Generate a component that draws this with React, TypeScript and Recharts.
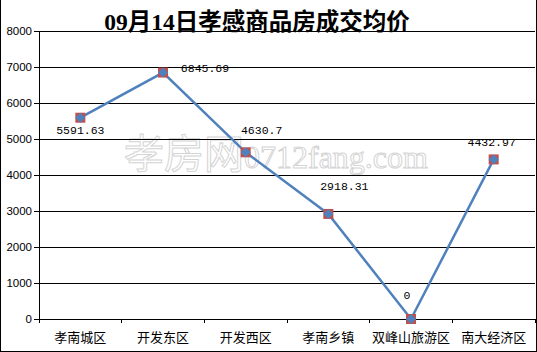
import React from 'react';
import { LineChart, Line, XAxis, YAxis, CartesianGrid, LabelList } from 'recharts';

const districts = ['孝南城区', '开发东区', '开发西区', '孝南乡镇', '双峰山旅游区', '南大经济区'];
const avgPrice = [5591.63, 6845.69, 4630.7, 2918.31, 0, 4432.97];
const priceLabels = ['5591.63', '6845.69', '4630.7', '2918.31', '0', '4432.97'];
const yTicks = [0, 1000, 2000, 3000, 4000, 5000, 6000, 7000, 8000];

// where each value label sits relative to its point
const labelShift = [
    [0, 13], [42, -4], [16, -22], [16, -27], [-4, -24], [-2, -17],
];

const chartData = districts.map((name, i) => ({ name, price: avgPrice[i], label: priceLabels[i] }));

const Marker = (props: any) => {
    const { cx, cy } = props;
    if (cx == null || cy == null) return null;
    return (
        <g>
            <rect x={cx - 5} y={cy - 5} width={10} height={10} fill="#C0504D" />
            <path d={`M${cx},${cy - 5} L${cx + 5},${cy} L${cx},${cy + 5} L${cx - 5},${cy} Z`} fill="#4F81BD" />
        </g>
    );
};

const PriceLabel = (props: any) => {
    const { x, y, index, value } = props;
    const [dx, dy] = labelShift[index] || [0, 0];
    return (
        <text x={x + dx} y={y + dy} textAnchor="middle" dominantBaseline="central"
            fontFamily="'Liberation Mono', monospace" fontSize={11.5} fill="#000">
            {value}
        </text>
    );
};

const CategoryTick = (props: any) => {
    const { x, y, payload } = props;
    const half = payload.offset || 0;
    return (
        <g>
            <line x1={x - half} y1={y - 8} x2={x - half} y2={y - 4} stroke="#000" shapeRendering="crispEdges" />
            <line x1={x + half} y1={y - 8} x2={x + half} y2={y - 4} stroke="#000" shapeRendering="crispEdges" />
            <text x={x} y={y + 9} textAnchor="middle" dominantBaseline="central"
                fontFamily="'Noto Sans CJK SC', sans-serif" fontSize={13} fill="#000">
                {payload.value}
            </text>
        </g>
    );
};

export default function App() {
    return (
        <div style={{ position: 'absolute', left: 0, top: 0, width: 537, height: 352, background: '#fff' }}>
            <div style={{
                position: 'absolute', left: 0, top: 3, width: 514, textAlign: 'center',
                fontFamily: "'Liberation Serif', 'Noto Sans CJK SC', serif", fontWeight: 'bold', fontSize: 23.5,
            }}>
                09月14日孝感商品房成交均价
            </div>
            <div style={{
                position: 'absolute', left: 124, top: 128, whiteSpace: 'nowrap', lineHeight: '46px',
                color: 'transparent', WebkitTextStroke: '1px #d4d4d4',
            }}>
                <span style={{ fontFamily: "'Noto Sans CJK SC', sans-serif", fontSize: 40 }}>孝房网</span>
                <span style={{ fontFamily: "'Liberation Serif', serif", fontSize: 32 }}>0712fang.com</span>
            </div>
            <LineChart width={537} height={352} data={chartData}
                margin={{ top: 31, right: 2, bottom: 3, left: 0 }}
                style={{ position: 'absolute', left: 0, top: 0 }}>
                <CartesianGrid vertical={false} stroke="#000" strokeOpacity={1} shapeRendering="crispEdges" />
                <XAxis dataKey="name" scale="band" height={30} axisLine={{ stroke: '#000', shapeRendering: 'crispEdges' }}
                    tickLine={false} tick={<CategoryTick />} interval={0} />
                <YAxis domain={[0, 8000]} ticks={yTicks} width={39} interval={0}
                    axisLine={{ stroke: '#000', shapeRendering: 'crispEdges' }}
                    tickLine={{ stroke: '#000', shapeRendering: 'crispEdges' }} tickSize={5}
                    tick={{ fill: '#000', fontSize: 11.5, fontFamily: "'Liberation Sans', sans-serif" }} />
                <Line dataKey="price" stroke="#4F81BD" strokeWidth={2.5} isAnimationActive={false}
                    dot={<Marker />} activeDot={false}>
                    <LabelList dataKey="label" content={<PriceLabel />} />
                </Line>
            </LineChart>
            <div style={{
                position: 'absolute', left: 0, top: 0, width: 537, height: 352, boxSizing: 'border-box',
                borderLeft: '1px solid #000', borderRight: '1px solid #000', borderBottom: '1px solid #000',
                pointerEvents: 'none',
            }} />
        </div>
    );
}
